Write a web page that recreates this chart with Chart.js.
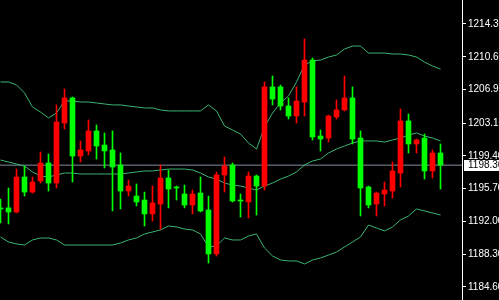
<!DOCTYPE html>
<html>
<head>
<meta charset="utf-8">
<script src="https://cdn.jsdelivr.net/npm/chart.js@4/dist/chart.umd.min.js"></script>
<style>
  html, body { margin: 0; padding: 0; background: #000; }
  canvas { display: block; }
</style>
</head>
<body>
<canvas id="chart" width="499" height="300"></canvas>
<script>
// candles, oldest first (first one is cut by the left edge)
const opens = [1193.41, 1193.53, 1193.07, 1197.02, 1195.32, 1196.57, 1198.60, 1196.34, 1203.12, 1205.95,
    1199.39, 1199.96, 1202.22, 1200.63, 1200.07, 1198.38, 1195.44, 1194.87, 1194.42, 1192.85,
    1193.97, 1196.91, 1195.78, 1195.10, 1193.86, 1195.21, 1193.30, 1188.33, 1197.25, 1198.38,
    1194.31, 1194.20, 1197.13, 1196.00, 1207.19, 1207.19, 1205.04, 1203.91, 1205.49, 1210.23,
    1201.65, 1201.42, 1203.80, 1204.59, 1205.95, 1201.42, 1195.89, 1193.97, 1195.10, 1195.44,
    1197.47, 1203.35, 1200.75, 1201.42, 1197.70, 1199.73]
const highs = [1194.53, 1195.78, 1197.92, 1198.26, 1197.02, 1199.84, 1199.62, 1205.16, 1206.96, 1206.06,
    1201.09, 1203.46, 1202.90, 1201.99, 1202.22, 1199.73, 1196.68, 1196.23, 1195.32, 1196.00,
    1198.38, 1197.81, 1196.00, 1196.11, 1195.55, 1197.02, 1194.87, 1197.59, 1199.28, 1198.60,
    1195.10, 1197.59, 1197.25, 1207.75, 1208.43, 1207.41, 1205.95, 1207.19, 1212.61, 1210.46,
    1202.33, 1204.02, 1205.72, 1208.43, 1207.19, 1202.22, 1196.00, 1195.32, 1196.45, 1198.71,
    1204.70, 1204.14, 1201.31, 1201.88, 1200.07, 1200.75]
const lows = [1191.83, 1191.72, 1192.96, 1194.87, 1195.21, 1196.34, 1195.44, 1195.78, 1202.44, 1196.45,
    1198.71, 1199.51, 1199.05, 1198.04, 1193.19, 1193.41, 1194.87, 1193.75, 1191.49, 1192.05,
    1191.15, 1193.53, 1194.42, 1193.53, 1192.85, 1193.07, 1187.31, 1188.10, 1195.32, 1194.20,
    1192.50, 1192.39, 1192.73, 1195.55, 1205.16, 1204.59, 1203.57, 1203.12, 1203.91, 1201.20,
    1199.96, 1200.97, 1203.57, 1204.48, 1200.75, 1192.62, 1193.53, 1192.62, 1193.75, 1194.65,
    1195.89, 1199.73, 1199.73, 1196.79, 1196.91, 1195.66]
const closes = [1193.41, 1193.07, 1197.02, 1195.32, 1196.45, 1198.60, 1196.34, 1203.23, 1205.95, 1199.39,
    1200.07, 1202.22, 1200.52, 1199.96, 1198.15, 1195.44, 1196.00, 1194.20, 1192.85, 1194.09,
    1196.91, 1195.66, 1195.78, 1193.86, 1195.10, 1193.19, 1188.33, 1197.25, 1198.26, 1194.31,
    1194.31, 1197.13, 1196.00, 1207.19, 1205.83, 1205.04, 1203.91, 1205.60, 1210.23, 1201.54,
    1201.31, 1203.91, 1204.59, 1205.95, 1201.31, 1195.78, 1193.86, 1195.21, 1195.55, 1197.70,
    1203.35, 1200.75, 1201.20, 1197.70, 1199.73, 1198.36]

// bollinger bands
const upperBand = [1207.75, 1207.75, 1207.42, 1206.51, 1204.93, 1204.36, 1203.69, 1204.25, 1205.61, 1205.61,
    1205.49, 1205.49, 1205.38, 1205.27, 1205.16, 1205.16, 1205.04, 1204.93, 1204.82, 1204.82,
    1204.59, 1204.48, 1204.48, 1204.48, 1204.48, 1204.48, 1205.16, 1204.48, 1202.78, 1202.33,
    1201.88, 1200.86, 1200.18, 1202.67, 1204.25, 1205.38, 1206.17, 1207.75, 1209.67, 1210.12,
    1210.23, 1210.57, 1210.80, 1211.47, 1211.81, 1211.81, 1211.02, 1211.02, 1211.02, 1210.91,
    1210.91, 1210.80, 1210.57, 1210.00, 1209.55, 1209.21]
const middleBand = [1198.94, 1198.71, 1198.49, 1198.26, 1197.59, 1197.13, 1197.02, 1197.25, 1197.47, 1197.47,
    1197.36, 1197.36, 1197.36, 1197.36, 1197.36, 1197.36, 1197.47, 1197.59, 1197.70, 1197.70,
    1197.81, 1197.92, 1197.92, 1197.92, 1197.81, 1197.47, 1197.02, 1196.79, 1196.34, 1196.11,
    1196.00, 1195.78, 1195.55, 1196.00, 1196.34, 1196.79, 1197.13, 1197.59, 1198.38, 1198.83,
    1199.05, 1199.73, 1200.18, 1200.52, 1200.86, 1201.09, 1201.09, 1201.09, 1200.97, 1201.20,
    1201.42, 1201.76, 1201.99, 1201.65, 1201.42, 1201.09]
const lowerBand = [1190.25, 1189.68, 1189.46, 1189.34, 1189.91, 1190.13, 1190.13, 1189.91, 1189.34, 1189.34,
    1189.34, 1189.34, 1189.34, 1189.34, 1189.34, 1189.57, 1189.91, 1190.13, 1190.59, 1190.81,
    1191.04, 1191.49, 1191.38, 1191.15, 1191.04, 1190.59, 1189.12, 1189.23, 1190.13, 1189.91,
    1189.91, 1190.36, 1190.59, 1189.00, 1188.10, 1187.65, 1187.54, 1187.54, 1187.20, 1187.65,
    1187.88, 1188.21, 1188.55, 1189.12, 1189.68, 1190.25, 1191.60, 1191.26, 1190.93, 1191.38,
    1192.17, 1192.62, 1193.41, 1193.19, 1192.96, 1192.73]

const priceTicks = [1214.30, 1210.60, 1206.90, 1203.10, 1199.40, 1195.70, 1192.00, 1188.30, 1184.60]
const bidPrice = 1198.36

const upColor = '#ff0000'
const downColor = '#00ff00'
const bandColor = '#3cb371'

const xMin = -0.0625
const xMax = 57.6875

let candleColor = function(ctx) {
    return closes[ctx.dataIndex] > opens[ctx.dataIndex] ? upColor : downColor
}

let wicks = lows.map(function(l, i) { return { x: i, y: [l, highs[i]] } })
let bodies = opens.map(function(o, i) { return { x: i, y: [o, closes[i]] } })
let band = function(arr) { return arr.map(function(v, i) { return { x: i, y: v } }) }

// white box with the last price on the axis
const bidLabel = {
    id: 'bidLabel',
    afterDraw(chart) {
        let c = chart.ctx
        let y = Math.round(chart.scales.y.getPixelForValue(bidPrice))
        c.save()
        c.fillStyle = '#fff'
        c.fillRect(464, y - 5, 40, 11)
        c.fillStyle = '#000'
        c.font = '10px "Liberation Sans"'
        c.textBaseline = 'middle'
        c.fillText(bidPrice.toFixed(2), 468, y + 0.5)
        c.restore()
    }
}

let chart = new Chart(document.getElementById('chart'), {
    type: 'bar',
    data: {
        datasets: [
            {
                type: 'bar', data: bodies, order: 0,
                backgroundColor: candleColor, barThickness: 5, grouped: false,
                minBarLength: 1, borderWidth: 0
            },
            {
                type: 'bar', data: wicks, order: 1,
                backgroundColor: candleColor, barThickness: 1, grouped: false,
                borderWidth: 0
            },
            {
                type: 'line', data: band(upperBand), order: 2,
                borderColor: bandColor, borderWidth: 1, pointRadius: 0, tension: 0
            },
            {
                type: 'line', data: band(middleBand), order: 2,
                borderColor: bandColor, borderWidth: 1, pointRadius: 0, tension: 0
            },
            {
                type: 'line', data: band(lowerBand), order: 2,
                borderColor: bandColor, borderWidth: 1, pointRadius: 0, tension: 0
            },
            {
                type: 'line', data: [{ x: xMin, y: bidPrice }, { x: xMax, y: bidPrice }], order: 3,
                borderColor: '#8090a0', borderWidth: 1, pointRadius: 0
            }
        ]
    },
    options: {
        responsive: false,
        animation: false,
        events: [],
        layout: { padding: 0 },
        plugins: { legend: { display: false }, tooltip: { enabled: false } },
        scales: {
            x: {
                type: 'linear', display: false, offset: false,
                min: xMin, max: xMax
            },
            y: {
                position: 'right',
                min: 1183.13, max: 1217.01,
                afterBuildTicks: function(axis) {
                    axis.ticks = priceTicks.map(function(v) { return { value: v } })
                },
                afterFit: function(axis) {
                    axis.width = 37
                    axis.paddingTop = 0
                    axis.paddingBottom = 0
                },
                ticks: {
                    color: '#fff', padding: 2,
                    font: { family: 'Liberation Sans', size: 10 },
                    callback: function(v) { return Number(v).toFixed(2) }
                },
                grid: { drawOnChartArea: false, tickLength: 4, color: '#fff' },
                border: { color: '#fff', width: 1 }
            }
        }
    },
    plugins: [bidLabel]
})
</script>
</body>
</html>
